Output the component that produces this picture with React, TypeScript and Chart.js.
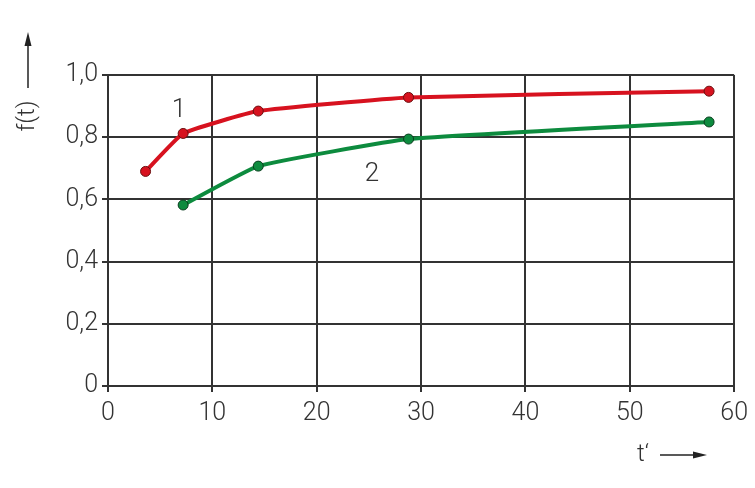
import React, { useEffect, useRef } from "react";
import { Chart, registerables } from "chart.js";

Chart.register(...registerables);

const curve1X = [3.6, 7.2, 14.4, 28.8, 57.6];
const curve1Y = [0.69, 0.812, 0.884, 0.928, 0.948];
const curve2X = [7.2, 14.4, 28.8, 57.6];
const curve2Y = [0.582, 0.707, 0.794, 0.849];
const seriesLabels = ["1", "2"];
const labelPosX = [6.8, 25.3];
const labelPosY = [0.885, 0.68];
const yAxisTitle = "f(t)";
const xAxisTitle = "t‘";

const FONT = "'Roboto', 'Noto Sans', sans-serif";
const RED = "#d7121f";
const GREEN = "#0d8b3e";

export default function App() {
  const ref = useRef<HTMLCanvasElement>(null);
  useEffect(() => {
    document.body.style.margin = "0";
    const annot = {
      id: "annot",
      afterDraw(chart: any) {
        const ctx = chart.ctx;
        const xs = chart.scales.x;
        const ys = chart.scales.y;
        ctx.save();
        ctx.fillStyle = "#333";
        ctx.font = `300 26px ${FONT}`;
        ctx.textAlign = "center";
        ctx.textBaseline = "middle";
        seriesLabels.forEach((l, i) => {
          ctx.fillText(l, xs.getPixelForValue(labelPosX[i]), ys.getPixelForValue(labelPosY[i]));
        });
        // y title
        ctx.save();
        ctx.translate(28, 116);
        ctx.rotate(-Math.PI / 2);
        ctx.font = `300 24px ${FONT}`;
        ctx.fillText(yAxisTitle, 0, 0);
        ctx.restore();
        ctx.strokeStyle = "#222";
        ctx.fillStyle = "#222";
        ctx.lineWidth = 1.5;
        ctx.beginPath();
        ctx.moveTo(28, 88);
        ctx.lineTo(28, 46);
        ctx.stroke();
        ctx.beginPath();
        ctx.moveTo(28, 32);
        ctx.lineTo(24.5, 46);
        ctx.lineTo(31.5, 46);
        ctx.closePath();
        ctx.fill();
        // x title
        ctx.font = `300 24px ${FONT}`;
        ctx.fillStyle = "#333";
        ctx.fillText(xAxisTitle, 643, 455);
        ctx.fillStyle = "#222";
        ctx.beginPath();
        ctx.moveTo(660, 455);
        ctx.lineTo(693, 455);
        ctx.stroke();
        ctx.beginPath();
        ctx.moveTo(707, 455);
        ctx.lineTo(693, 451.5);
        ctx.lineTo(693, 458.5);
        ctx.closePath();
        ctx.fill();
        ctx.restore();
      },
    };
    const chart = new Chart(ref.current!, {
      type: "line",
      data: {
        datasets: [
          {
            data: curve1X.map((x, i) => ({ x, y: curve1Y[i] })),
            borderColor: RED,
            backgroundColor: RED,
            pointBorderColor: "#6a1010",
            pointBorderWidth: 1,
            pointRadius: 5,
            borderWidth: 4,
            tension: 0.12,
          },
          {
            data: curve2X.map((x, i) => ({ x, y: curve2Y[i] })),
            borderColor: GREEN,
            backgroundColor: GREEN,
            pointBorderColor: "#0a3d1e",
            pointBorderWidth: 1,
            pointRadius: 5,
            borderWidth: 4,
            tension: 0.12,
          },
        ],
      },
      options: {
        animation: false,
        responsive: false,
        layout: { padding: { left: 0, right: 20, top: 75, bottom: 0 } },
        plugins: { legend: { display: false }, tooltip: { enabled: false } },
        scales: {
          x: {
            type: "linear",
            min: 0,
            max: 60,
            afterFit: (s: any) => { s.height = 102; },
            ticks: {
              stepSize: 10,
              color: "#333",
              font: { family: FONT, size: 25, weight: "300" },
              padding: 7,
            },
            grid: { color: "#333", lineWidth: 2, tickLength: 6 },
            border: { color: "#333", width: 2 },
          },
          y: {
            min: 0,
            max: 1,
            afterFit: (s: any) => { s.width = 108; },
            ticks: {
              stepSize: 0.2,
              color: "#333",
              font: { family: FONT, size: 25, weight: "300" },
              padding: 4,
              callback: (v: any) => (v === 0 ? "0" : Number(v).toFixed(1).replace(".", ",")),
            },
            grid: { color: "#333", lineWidth: 2, tickLength: 6 },
            border: { color: "#333", width: 2 },
          },
        },
      },
      plugins: [annot],
    } as any);
    return () => chart.destroy();
  }, []);
  return (
    <div style={{ width: 755, height: 488, background: "#fff" }}>
      <canvas ref={ref} width={755} height={488} />
    </div>
  );
}
